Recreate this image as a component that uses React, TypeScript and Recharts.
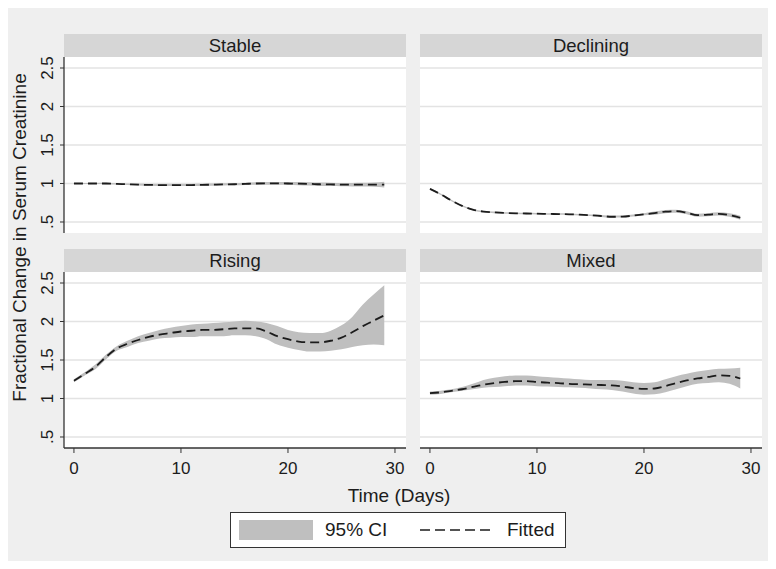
import React from "react";
import {
  Area,
  CartesianGrid,
  ComposedChart,
  Line,
  XAxis,
  YAxis,
} from "recharts";

const days = [
  0, 1, 2, 3, 4, 5, 6, 7, 8, 9, 10, 11, 12, 13, 14, 15, 16, 17, 18, 19, 20, 21,
  22, 23, 24, 25, 26, 27, 28, 29,
];
const xTicks = [0, 10, 20, 30];
const yTicks = [0.5, 1, 1.5, 2, 2.5];

const stableFit = [
  1.0, 1.0, 1.0, 1.0, 0.995, 0.99, 0.985, 0.982, 0.98, 0.98, 0.98, 0.98, 0.982,
  0.985, 0.988, 0.99, 0.995, 1.0, 1.002, 1.002, 1.0, 0.998, 0.995, 0.99, 0.988,
  0.985, 0.985, 0.985, 0.985, 0.985,
];
const stableLower = [
  0.992, 0.992, 0.992, 0.991, 0.986, 0.98, 0.974, 0.97, 0.967, 0.966, 0.966,
  0.966, 0.968, 0.971, 0.974, 0.976, 0.98, 0.983, 0.984, 0.983, 0.98, 0.977,
  0.973, 0.968, 0.966, 0.963, 0.962, 0.961, 0.958, 0.948,
];
const stableUpper = [
  1.008, 1.008, 1.008, 1.009, 1.004, 1.0, 0.996, 0.994, 0.993, 0.994, 0.994,
  0.994, 0.996, 0.999, 1.002, 1.004, 1.01, 1.017, 1.02, 1.021, 1.02, 1.019,
  1.017, 1.012, 1.01, 1.007, 1.008, 1.009, 1.012, 1.022,
];

const decliningFit = [
  0.93, 0.86, 0.78, 0.71, 0.66, 0.635, 0.625, 0.618, 0.613, 0.61, 0.608, 0.605,
  0.603, 0.6, 0.595, 0.588, 0.578, 0.568, 0.57, 0.583, 0.6, 0.615, 0.635, 0.64,
  0.62, 0.588, 0.595, 0.605, 0.59, 0.555,
];
const decliningLower = [
  0.92, 0.85, 0.77, 0.7, 0.65, 0.625, 0.615, 0.608, 0.603, 0.6, 0.598, 0.595,
  0.593, 0.59, 0.585, 0.578, 0.565, 0.555, 0.557, 0.57, 0.587, 0.595, 0.615,
  0.62, 0.6, 0.568, 0.575, 0.585, 0.568, 0.53,
];
const decliningUpper = [
  0.94, 0.87, 0.79, 0.72, 0.67, 0.645, 0.635, 0.628, 0.623, 0.62, 0.618, 0.615,
  0.613, 0.61, 0.605, 0.598, 0.591, 0.581, 0.583, 0.596, 0.613, 0.635, 0.655,
  0.66, 0.64, 0.608, 0.615, 0.625, 0.612, 0.58,
];

const risingFit = [
  1.23, 1.32, 1.41, 1.54, 1.65, 1.71, 1.76, 1.8, 1.83, 1.85, 1.87, 1.88, 1.89,
  1.89, 1.9, 1.91, 1.91, 1.91, 1.87, 1.81, 1.77, 1.74, 1.73, 1.73, 1.75, 1.79,
  1.86, 1.94, 2.01, 2.08,
];
const risingLower = [
  1.21, 1.3, 1.38, 1.51, 1.62, 1.67, 1.72, 1.75, 1.78, 1.79, 1.8, 1.8, 1.81,
  1.81, 1.81, 1.82, 1.82, 1.81, 1.77, 1.7, 1.66, 1.63, 1.61, 1.61, 1.62, 1.64,
  1.67, 1.69, 1.7, 1.69,
];
const risingUpper = [
  1.25, 1.34, 1.44, 1.57, 1.68, 1.75, 1.81, 1.85, 1.89, 1.92, 1.94, 1.96, 1.97,
  1.98, 1.99, 2.0, 2.01, 2.0, 1.98, 1.94, 1.89, 1.86, 1.85, 1.85, 1.88, 1.95,
  2.06, 2.22, 2.35, 2.47,
];

const mixedFit = [
  1.07, 1.08, 1.1, 1.12, 1.15, 1.18, 1.2, 1.215, 1.225, 1.225, 1.215, 1.205,
  1.2, 1.19, 1.185, 1.18, 1.175, 1.17, 1.155, 1.135, 1.125, 1.13, 1.16, 1.2,
  1.235, 1.26, 1.28, 1.3, 1.295, 1.26,
];
const mixedLower = [
  1.05, 1.06, 1.08, 1.1, 1.12, 1.14, 1.15, 1.16, 1.17, 1.17, 1.16, 1.155, 1.15,
  1.145, 1.14, 1.13, 1.12, 1.11, 1.09, 1.065, 1.05, 1.055, 1.08, 1.12, 1.16,
  1.19, 1.2, 1.21, 1.19, 1.13,
];
const mixedUpper = [
  1.09, 1.1, 1.12, 1.15, 1.19, 1.24, 1.27, 1.29, 1.3, 1.3, 1.29, 1.28, 1.27,
  1.26, 1.25, 1.24, 1.24, 1.24, 1.23, 1.21, 1.2, 1.21, 1.25, 1.29, 1.32, 1.35,
  1.37, 1.385, 1.39, 1.4,
];

const FONT = '"Liberation Sans", Arial, sans-serif';
const BAND = "#bfbfbf";
const INK = "#1c1c1c";

type Row = { day: number; fit: number; lo: number; hi: number };

function rows(fit: number[], lo: number[], hi: number[]): Row[] {
  return days.map((day, i) => ({ day, fit: fit[i], lo: lo[i], hi: hi[i] }));
}

// Stata-style vertical y labels: ".5", "1", "1.5" ...
function YTick({ x, y, payload }: any) {
  const tx = x - 5;
  const label = String(payload.value).replace(/^0\./, ".");
  return (
    <text
      x={tx}
      y={y}
      transform={`rotate(-90 ${tx} ${y})`}
      textAnchor="middle"
      fontSize={17}
      fontFamily={FONT}
      fill={INK}
    >
      {label}
    </text>
  );
}

function Panel({
  title,
  data,
  left,
  top,
  showY,
  showX,
}: {
  title: string;
  data: Row[];
  left: number;
  top: number;
  showY: boolean;
  showX: boolean;
}) {
  const yW = showY ? 40 : 0;
  const plotW = 342;
  const plotH = 176;
  const xH = showX ? 34 : 0;
  return (
    <>
      <div
        style={{
          position: "absolute",
          left: left + yW,
          top: top - 23,
          width: plotW,
          height: 23,
          background: "#d6d6d6",
          fontFamily: FONT,
          fontSize: 18.5,
          color: INK,
          textAlign: "center",
          lineHeight: "23px",
        }}
      >
        {title}
      </div>
      <div style={{ position: "absolute", left, top }}>
        <ComposedChart
          width={plotW + yW}
          height={plotH + xH}
          data={data}
          margin={{ top: 0, right: 0, bottom: 0, left: 0 }}
        >
          <CartesianGrid
            vertical={false}
            horizontalValues={yTicks}
            fill="#ffffff"
            stroke="#e3e3e3"
            strokeWidth={1.5}
          />
          <XAxis
            type="number"
            dataKey="day"
            domain={[-0.93, 31.03]}
            ticks={xTicks}
            allowDataOverflow
            hide={!showX}
            height={xH}
            tickSize={5}
            tickMargin={9}
            axisLine={{ stroke: "#333", strokeWidth: 1.3 }}
            tickLine={{ stroke: "#333" }}
            tick={{ fontSize: 17, fill: INK, fontFamily: FONT }}
          />
          <YAxis
            type="number"
            domain={[0.357, 2.643]}
            ticks={yTicks}
            allowDataOverflow
            hide={!showY}
            width={yW}
            tickSize={4}
            axisLine={{ stroke: "#333", strokeWidth: 1.3 }}
            tickLine={{ stroke: "#333" }}
            tick={<YTick />}
          />
          <Area
            type="monotone"
            dataKey={(d: Row) => [d.lo, d.hi]}
            stroke="none"
            fill={BAND}
            fillOpacity={1}
            isAnimationActive={false}
          />
          <Line
            type="monotone"
            dataKey="fit"
            stroke={INK}
            strokeWidth={1.8}
            strokeDasharray="9 5"
            dot={false}
            isAnimationActive={false}
          />
        </ComposedChart>
      </div>
    </>
  );
}

export default function App() {
  return (
    <div
      style={{
        position: "relative",
        width: 768,
        height: 553,
        background: "#efefef",
        fontFamily: FONT,
      }}
    >
      <svg
        width={40}
        height={553}
        style={{ position: "absolute", left: 0, top: 0 }}
      >
        <text
          x={18}
          y={229.5}
          transform="rotate(-90 18 229.5)"
          textAnchor="middle"
          fontSize={19}
          fontFamily={FONT}
          fill={INK}
        >
          Fractional Change in Serum Creatinine
        </text>
      </svg>
      <Panel
        title="Stable"
        data={rows(stableFit, stableLower, stableUpper)}
        left={16}
        top={49}
        showY
        showX={false}
      />
      <Panel
        title="Declining"
        data={rows(decliningFit, decliningLower, decliningUpper)}
        left={412}
        top={49}
        showY={false}
        showX={false}
      />
      <Panel
        title="Rising"
        data={rows(risingFit, risingLower, risingUpper)}
        left={16}
        top={264}
        showY
        showX
      />
      <Panel
        title="Mixed"
        data={rows(mixedFit, mixedLower, mixedUpper)}
        left={412}
        top={264}
        showY={false}
        showX
      />
      <div
        style={{
          position: "absolute",
          left: 0,
          width: 782,
          top: 478,
          textAlign: "center",
          fontSize: 19,
          color: INK,
          lineHeight: "20px",
        }}
      >
        Time (Days)
      </div>
      <div
        style={{
          position: "absolute",
          left: 222,
          top: 504,
          width: 334,
          height: 34,
          background: "#fff",
          border: "1px solid #333",
          fontSize: 19,
          color: INK,
        }}
      >
        <div
          style={{
            position: "absolute",
            left: 8,
            top: 7,
            width: 74,
            height: 20,
            background: BAND,
          }}
        />
        <div style={{ position: "absolute", left: 94, top: 6, lineHeight: "22px" }}>
          95% CI
        </div>
        <svg
          width={74}
          height={4}
          style={{ position: "absolute", left: 189, top: 15 }}
        >
          <line
            x1={0}
            y1={2}
            x2={74}
            y2={2}
            stroke={INK}
            strokeWidth={1.6}
            strokeDasharray="10 5"
          />
        </svg>
        <div style={{ position: "absolute", left: 276, top: 6, lineHeight: "22px" }}>
          Fitted
        </div>
      </div>
    </div>
  );
}
